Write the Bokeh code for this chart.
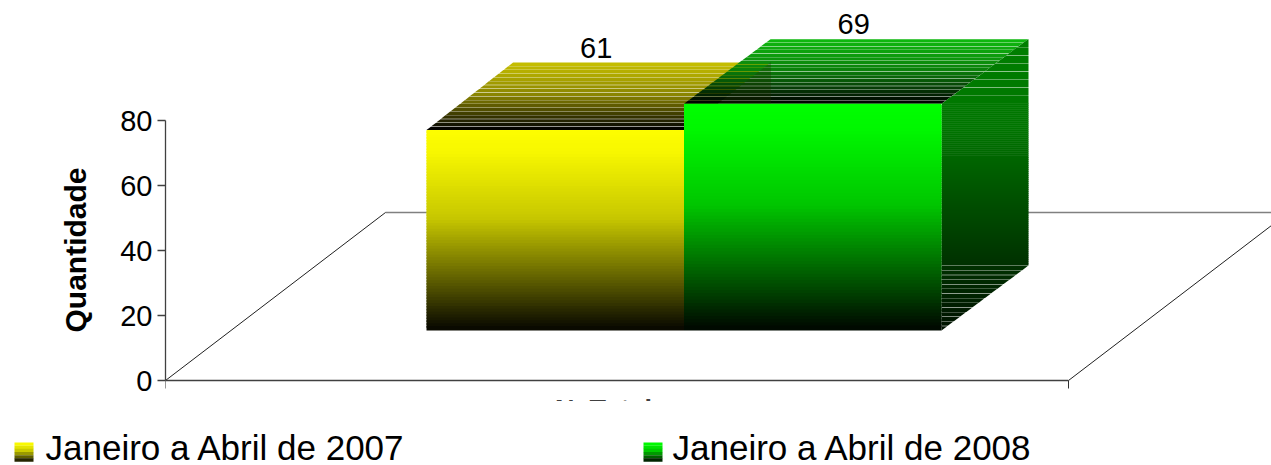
from bokeh.plotting import figure
from bokeh.models import Range1d, LinearAxis, FixedTicker, Title
from bokeh.core.properties import value
from bokeh.embed import file_html
from bokeh.resources import INLINE
import numpy as np

categories = ["Janeiro a Abril de 2007", "Janeiro a Abril de 2008"]
values = [61, 69]
y_ticks = [0, 20, 40, 60, 80]
y_title = "Quantidade"
x_title = "N. Total"

FONT = "Liberation Sans"
front_rgb = [(255, 255, 0), (0, 255, 0)]
top_rgb = [(204, 196, 0), (16, 190, 16)]

# layout: page coordinates of the original are converted through these
PX_Y = 3.285        # pixels per value on the bars
PX_Y_AXIS = 3.25    # pixels per value on the axis
PX_X = 257.5        # pixels per bar width
PAGE_LEFT = 165
PAGE_ZERO = 380
PANEL_BOTTOM = 401
BAR_LEFT = (426 - PAGE_LEFT) / PX_X
BASE = 50 / PX_Y
DX = 87 / PX_X
DEPTH_PX = [68, 65]
DY = 65 / PX_Y
FLOOR_DX = 220 / PX_X
FLOOR_DY = 168 / PX_Y
FLOOR_W = (1068 - PAGE_LEFT) / PX_X

F_W, F_H = 1271 - PAGE_LEFT, PANEL_BOTTOM
p = figure(width=1271, height=F_H, output_backend="svg", toolbar_location=None,
           x_axis_location=None, y_axis_location=None,
           frame_width=F_W, frame_height=F_H,
           min_border_left=PAGE_LEFT, min_border_right=0, min_border_top=0, min_border_bottom=0,
           x_range=Range1d(0, F_W / PX_X),
           y_range=Range1d((PAGE_ZERO - PANEL_BOTTOM) / PX_Y, PAGE_ZERO / PX_Y),
           outline_line_color=None, background_fill_color="white", border_fill_color="white")
p.grid.visible = False
p.extra_y_ranges = {"axis": Range1d((PAGE_ZERO - PANEL_BOTTOM) / PX_Y_AXIS, PAGE_ZERO / PX_Y_AXIS)}
ax = LinearAxis(y_range_name="axis", ticker=FixedTicker(ticks=y_ticks), bounds=(0, 80),
                major_label_text_font=FONT, major_label_text_font_size="29px",
                major_label_text_color="black", major_label_standoff=5,
                major_tick_out=8, major_tick_in=0, minor_tick_out=0, minor_tick_in=0,
                axis_line_color="#404040", axis_line_width=1.3, major_tick_line_color="#404040",
                major_tick_line_width=1.3)
p.add_layout(ax, "left")
p.add_layout(Title(text=y_title, align="left", offset=69, standoff=52, text_font=FONT, text_font_style="bold",
                   text_font_size="30px", text_color="black"), "left")


def ramp(rgb, f):
    """f = 0 at the bright end, 1 at the dark end"""
    k = np.interp(f, [0, .12, .45, .75, 1], [1, .97, .78, .38, .03])
    return "#%02x%02x%02x" % tuple(int(c * k) for c in rgb)


def poly(xs, ys, color, alpha=1.0):
    p.patch(xs, ys, fill_color=color, line_color=None, fill_alpha=alpha)


# floor
p.segment([FLOOR_DX], [FLOOR_DY], [F_W / PX_X], [FLOOR_DY], line_color="#808080", line_width=1.5)
p.segment([0], [0], [FLOOR_DX], [FLOOR_DY], line_color="#202020", line_width=1)
p.segment([FLOOR_W], [0], [FLOOR_W + FLOOR_DX], [FLOOR_DY], line_color="#202020", line_width=1)
p.segment([0], [0], [FLOOR_W], [0], line_color="#404040", line_width=1.6)
p.segment([0, FLOOR_W], [0, 0], [0, FLOOR_W], [-8 / PX_Y, -8 / PX_Y], line_color="#303030", line_width=1)

# clipped x title, cut off by the bottom of the frame
p.text([(603 - PAGE_LEFT) / PX_X], [(PAGE_ZERO - 409) / PX_Y], text=[x_title], text_align="center",
       text_baseline="middle", text_font=value(FONT), text_font_style="bold",
       text_font_size="27px", text_color="#404040")


def top_face(i, v):
    xl = BAR_LEFT + i
    top = BASE + v
    dy = DEPTH_PX[i] / PX_Y
    n = 18
    gap = .35 / DEPTH_PX[i]
    for k in range(n):
        a, b = k / n, (k + 1) / n - gap
        shade = np.interp(a, [0, .15, .5, 1], [.02, .23, .68, 1])
        c = "#%02x%02x%02x" % tuple(int(ch * shade) for ch in top_rgb[i])
        poly([xl + a * DX, xl + 1 + a * DX, xl + 1 + b * DX, xl + b * DX],
             [top + a * dy, top + a * dy, top + b * dy, top + b * dy], c)


def front_face(i, v):
    xl = BAR_LEFT + i
    n = 70
    edges = np.linspace(BASE + v, BASE, n + 1)
    colors = [ramp(front_rgb[i], (k + .5) / n) for k in range(n)]
    tops = edges[:-1].copy()
    tops[1:] += .5
    p.quad(left=[xl] * n, right=[xl + 1] * n, top=tops, bottom=edges[1:],
           fill_color=colors, line_color=None)


def side_face(i, v):
    xr = BAR_LEFT + i + 1
    top = BASE + v
    levels = []
    s = top + DY
    for a, b, gap in [(top, top + DY, 8.1), (BASE + DY, top, 2.0), (BASE, BASE + DY, 4.6)]:
        h = gap / PX_Y
        m = int(round((b - a) / h))
        e = np.linspace(b, a, m + 1)
        seam = -.6 / PX_Y if gap == 2.0 else .35 / PX_Y
        for t, u in zip(e[:-1], e[1:]):
            levels.append((t - seam, u))
    for t, u in levels:
        f = (s - (t + u) / 2) / (s - BASE)
        k = np.interp(f, [0, .3, .78, 1], [.50, .46, .19, .07])
        c = "#%02x%02x%02x" % tuple(int(ch * k) for ch in front_rgb[i])

        def lx(w):
            return xr + max(0, (w - top) / DY) * DX

        def rx(w):
            return xr + min(1, (w - BASE) / DY) * DX
        poly([lx(t), rx(t), rx(u), lx(u)], [t, t, u, u], c)


# yellow bar, then green bar over it
top_face(0, values[0])
front_face(0, values[0])
top_face(1, values[1])

# the yellow bar's side shows faintly through the green top
xr0 = BAR_LEFT + 1
t0 = BASE + values[0]
t1 = BASE + values[1]
dy0 = DEPTH_PX[0] / PX_Y
poly([xr0 + (t1 - t0) / dy0 * DX, xr0 + DX, xr0 + DX], [t1, t0 + dy0, t1], "#203000", .28)

side_face(1, values[1])
front_face(1, values[1])

# value labels
for i, v in enumerate(values):
    lx_ = BAR_LEFT + i + .5 + 41 / PX_X
    p.text([lx_], [BASE + v + DEPTH_PX[i] / PX_Y + 14.5 / PX_Y], text=[str(v)], text_align="center",
           text_baseline="middle", text_font=value(FONT), text_font_size="29px",
           text_color="black")

# legend strip
L_H = 465 - PANEL_BOTTOM
lg = figure(width=1271, height=L_H, output_backend="svg", toolbar_location=None,
            x_axis_location=None, y_axis_location=None, frame_width=1271, frame_height=L_H,
            min_border=0, min_border_left=0, min_border_right=0, min_border_top=0, min_border_bottom=0,
            x_range=Range1d(0, 1271), y_range=Range1d(465, PANEL_BOTTOM),
            outline_line_color=None, background_fill_color="white", border_fill_color="white")
lg.grid.visible = False
for i, (cat, sx, tx) in enumerate(zip(categories, [14, 643], [45, 672])):
    n = 6
    e = np.linspace(442, 461, n + 1)
    cols = [ramp(front_rgb[i], (k + .5) / n) for k in range(n)]
    lg.quad(left=[sx] * n, right=[sx + 19] * n, top=e[:-1], bottom=e[1:] + .2, fill_color=cols, line_color=None)
    lg.text([tx], [447], text=[cat], text_align="left", text_baseline="middle",
            text_font=value(FONT), text_font_size="35px", text_color="black")

open("out.html", "w").write(file_html((p, lg), INLINE))
